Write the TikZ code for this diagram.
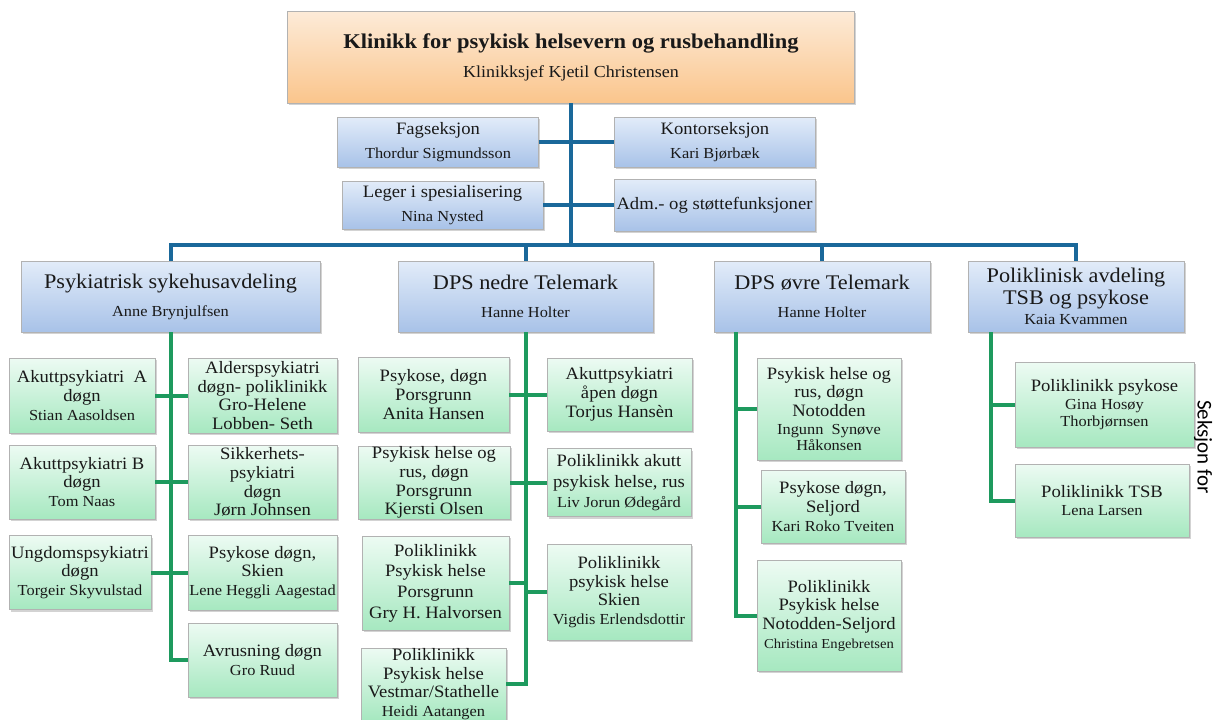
\documentclass[tikz,border=0pt]{standalone}
\usepackage{fontspec}
\setmainfont{Liberation Serif}[FakeStretch=1.07]
\newfontfamily\calib{Carlito}
\usetikzlibrary{shadows}
\definecolor{orangetop}{HTML}{FDEBD8}
\definecolor{orangebot}{HTML}{FAC58C}
\definecolor{bluetop}{HTML}{E2ECF9}
\definecolor{bluebot}{HTML}{A8C2E8}
\definecolor{greentop}{HTML}{EDFBF3}
\definecolor{greenbot}{HTML}{A6E8C0}
\definecolor{blueline}{HTML}{1A689A}
\definecolor{greenline}{HTML}{1E9A5E}
\newcommand{\nm}[1]{{\fontsize{15.3}{17}\selectfont #1}}
\tikzset{
  box/.style={draw=gray!60, line width=0.8pt, align=center, inner sep=0pt, text=black!90,
    drop shadow={shadow xshift=1.5pt, shadow yshift=-2pt, opacity=0.35}},
  head/.style={box, top color=orangetop, bottom color=orangebot,
    minimum width=567pt, minimum height=92pt, font=\fontsize{16.8}{29}\selectfont},
  staff/.style={box, top color=bluetop, bottom color=bluebot,
    minimum width=201pt, minimum height=50pt, font=\fontsize{17.4}{24}\selectfont},
  dept/.style={box, top color=bluetop, bottom color=bluebot,
    minimum height=71pt, font=\fontsize{20.8}{22}\selectfont},
  unit/.style={box, top color=greentop, bottom color=greenbot,
    minimum width=145pt, minimum height=74pt, font=\fontsize{17.4}{18.7}\selectfont},
  bus/.style={blueline, line width=4pt},
  branch/.style={greenline, line width=4pt}
}
\begin{document}
\begin{tikzpicture}[x=1pt, y=-1pt]
\useasboundingbox (0,0) rectangle (1213,720);

\node[head] (klinikk) at (571,57) {{\bfseries\fontsize{21}{24}\selectfont Klinikk for psykisk helsevern og rusbehandling}\\Klinikksjef Kjetil Christensen};
\coordinate (bus) at (571,245);

\node[staff] (fag) at (438,142) {Fagseksjon\\\nm{Thordur Sigmundsson}};
\node[staff] (kontor) at (715,142) {Kontorseksjon\\\nm{Kari Bjørbæk}};
\node[staff, minimum height=48pt] (leger) at (442.5,205) {Leger i spesialisering\\\nm{Nina Nysted}};
\node[staff, minimum height=52pt] (adm) at (714.5,205) {Adm.- og støttefunksjoner};

\node[dept, minimum width=299pt] (psyk) at (170.5,296.5) {Psykiatrisk sykehusavdeling\\[6pt]\nm{Anne Brynjulfsen}};
\node[dept, minimum width=255pt] (nedre) at (525.5,296.5) {DPS nedre Telemark\\[6pt]\nm{Hanne Holter}};
\node[dept, minimum width=216pt] (ovre) at (822,296.5) {DPS øvre Telemark\\[6pt]\nm{Hanne Holter}};
\node[dept, minimum width=216pt] (poltsb) at (1076,296.5) {Poliklinisk avdeling\\TSB og psykose\\[-2pt]\nm{Kaia Kvammen}};

\node[unit, minimum width=146pt, minimum height=75pt] (akuttA) at (82,395.5) {Akuttpsykiatri~ A\\døgn\\\nm{Stian Aasoldsen}};
\node[unit, minimum width=146pt] (akuttB) at (82,482) {Akuttpsykiatri B\\døgn\\\nm{Tom Naas}};
\node[unit, minimum width=142pt] (ungdom) at (80,572.5) {Ungdomspsykiatri\\døgn\\\nm{Torgeir Skyvulstad}};
\node[unit, minimum width=149pt, minimum height=75pt] (alders) at (262.5,395.5) {Alderspsykiatri\\døgn- poliklinikk\\Gro-Helene\\Lobben- Seth};
\node[unit, minimum width=149pt] (sikker) at (262.5,482) {Sikkerhets-\\psykiatri\\døgn\\Jørn Johnsen};
\node[unit, minimum width=149pt, minimum height=75pt] (psykskien) at (262.5,572.5) {Psykose døgn,\\Skien\\\nm{Lene Heggli Aagestad}};
\node[unit, minimum width=149pt] (avrus) at (262.5,660) {Avrusning døgn\\\nm{Gro Ruud}};

\node[unit, minimum width=151pt, minimum height=75pt] (psyPors) at (433.5,394.5) {Psykose, døgn\\Porsgrunn\\Anita Hansen};
\node[unit, minimum width=152pt, minimum height=73pt] (rusPors) at (434,482.5) {Psykisk helse og\\rus, døgn\\Porsgrunn\\Kjersti Olsen};
\node[unit, minimum width=147pt, minimum height=94pt] (poliPors) at (435.5,583) {Poliklinikk\\[2pt]Psykisk helse\\[2pt]Porsgrunn\\[2pt]Gry H. Halvorsen};
\node[unit, minimum width=145pt, minimum height=72pt] (vestmar) at (433.5,684) {Poliklinikk\\Psykisk helse\\Vestmar/Stathelle\\\nm{Heidi Aatangen}};
\node[unit, minimum height=73pt] (akuttApen) at (619.5,394.5) {Akuttpsykiatri\\åpen døgn\\Torjus Hansèn};
\node[unit, minimum width=144pt, minimum height=68pt] (poliAkutt) at (619,482.5) {Poliklinikk akutt\\[2pt]psykisk helse, rus\\[1pt]\nm{Liv Jorun Ødegård}};
\node[unit, minimum width=144pt, minimum height=96pt] (poliSkien) at (619,592) {Poliklinikk\\psykisk helse\\Skien\\\nm{Vigdis Erlendsdottir}};

\node[unit, minimum width=144pt, minimum height=102pt] (ovreNot) at (829,409) {Psykisk helse og\\rus, døgn\\Notodden\\[-1pt]\nm{Ingunn~ Synøve}\\[-2pt]\nm{Håkonsen}};
\node[unit, minimum width=144pt, minimum height=73pt] (ovreSel) at (833,506.5) {Psykose døgn,\\Seljord\\\nm{Kari Roko Tveiten}};
\node[unit, minimum width=144pt, minimum height=111pt] (ovrePoli) at (829,615.5) {Poliklinikk\\Psykisk helse\\Notodden-Seljord\\{\fontsize{13.7}{16}\selectfont Christina Engebretsen}};

\node[unit, minimum width=179pt, minimum height=85pt] (poliPsykose) at (1104.5,404.5) {Poliklinikk psykose\\\nm{Gina Hosøy}\\[-2pt]\nm{Thorbjørnsen}};
\node[unit, minimum width=174pt, minimum height=73pt] (poliTSB) at (1102,500.5) {Poliklinikk TSB\\\nm{Lena Larsen}};

\node[font=\calib\fontsize{21}{25}\selectfont, rotate=-90] (seksjon) at (1203,447) {Seksjon for};

\draw[bus] (klinikk.south) -- (bus);
\draw[bus] (fag.east) -- (kontor.west);
\draw[bus] (leger.east) -- (adm.west);
\draw[bus] (psyk.north) |- (bus) -| (poltsb.north);
\draw[bus] (nedre.north) -- (nedre.north |- bus);
\draw[bus] (ovre.north) -- (ovre.north |- bus);

\draw[branch] (psyk.south) |- (avrus.west);
\draw[branch] (akuttA.east) -- (alders.west);
\draw[branch] (akuttB.east) -- (sikker.west);
\draw[branch] (ungdom.east) -- (psykskien.west);

\draw[branch] (nedre.south) |- (vestmar.east);
\draw[branch] (psyPors.east) -- (akuttApen.west);
\draw[branch] (rusPors.east) -- (poliAkutt.west);
\draw[branch] (poliPors.east) -- (nedre.south |- poliPors.east);
\draw[branch] (poliSkien.west) -- (nedre.south |- poliSkien.west);

\coordinate (ovreT) at ([xshift=-86pt]ovre.south);
\draw[branch] (ovreT) |- (ovrePoli.west);
\draw[branch] (ovreT |- ovreNot.west) -- (ovreNot.west);
\draw[branch] (ovreT |- ovreSel.west) -- (ovreSel.west);

\coordinate (tsbT) at ([xshift=-85pt]poltsb.south);
\draw[branch] (tsbT) |- (poliTSB.west);
\draw[branch] (tsbT |- poliPsykose.west) -- (poliPsykose.west);
\end{tikzpicture}
\end{document}
